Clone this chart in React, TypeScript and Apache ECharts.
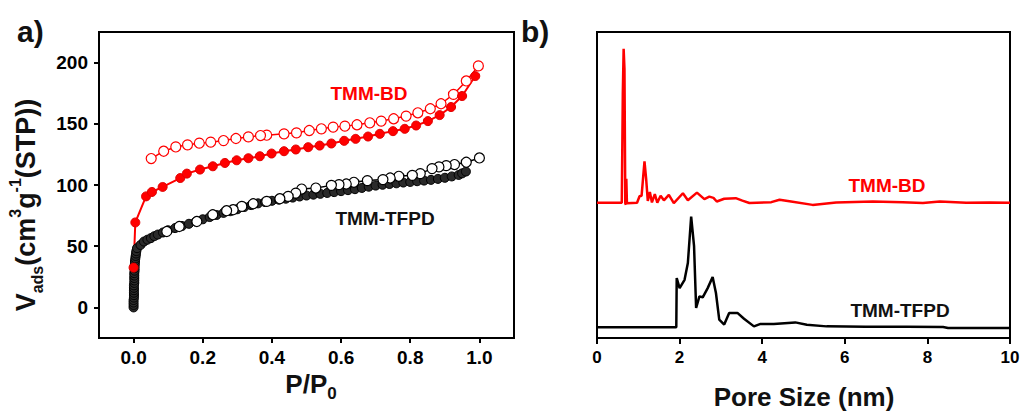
import React, { useEffect, useRef } from 'react';
import * as echarts from 'echarts';

const FONT = '"Liberation Sans", Arial, Helvetica, sans-serif';
const RED = '#ff0000';
const BLACK = '#000000';

// Panel a) N2 isotherms: [P/P0, V_ads]
const bdAdsorption: [number, number][] = [
  [0.0, 32.5], [0.005, 69.4], [0.036, 90.7], [0.053, 94.3], [0.084, 98.4],
  [0.135, 105.7], [0.154, 109.3], [0.192, 112.6], [0.229, 115.3], [0.264, 118],
  [0.298, 120.2], [0.332, 121.9], [0.365, 123.5], [0.399, 125.7], [0.435, 127.6],
  [0.469, 129], [0.505, 130.9], [0.538, 132.2], [0.572, 133.9], [0.609, 136.1],
  [0.642, 137.7], [0.678, 139.6], [0.712, 141.8], [0.75, 144], [0.784, 145.9],
  [0.817, 148.6], [0.851, 152.2], [0.885, 157.1], [0.918, 163.7], [0.95, 172.7],
  [0.988, 189],
];
const bdDesorption: [number, number][] = [
  [0.997, 197.3], [0.962, 185], [0.925, 174], [0.889, 166.4], [0.858, 162.3],
  [0.822, 159], [0.788, 156.3], [0.752, 154.1], [0.716, 152.2], [0.683, 150.8],
  [0.646, 149.2], [0.611, 148.1], [0.577, 147.3], [0.543, 145.9], [0.508, 144.5],
  [0.471, 142.6], [0.435, 141.8], [0.385, 140.7], [0.367, 140.4], [0.332, 139.3],
  [0.296, 138], [0.26, 136.3], [0.223, 135], [0.19, 134.2], [0.156, 132.8],
  [0.122, 131.1], [0.087, 127.6], [0.051, 121.6],
];
const tfpdAdsorption: [number, number][] = [
  [0.0, 0], [0.0, 2], [0.0, 4], [0.0, 6], [0.001, 8], [0.001, 10], [0.001, 12],
  [0.001, 14], [0.001, 16], [0.001, 18], [0.002, 20], [0.002, 22], [0.002, 24],
  [0.002, 26], [0.002, 28], [0.003, 30], [0.003, 32], [0.003, 34], [0.004, 36],
  [0.004, 38], [0.005, 40], [0.006, 42], [0.007, 44], [0.008, 46], [0.01, 48.4],
  [0.02, 51], [0.03, 53.8], [0.04, 55.3], [0.05, 56.6], [0.06, 58.2], [0.07, 59.5],
  [0.085, 61.2], [0.1, 63], [0.12, 64.8], [0.14, 66.5], [0.16, 68.3], [0.18, 70.1],
  [0.2, 72], [0.22, 73.8], [0.24, 75.5], [0.26, 77.2], [0.28, 78.6], [0.3, 80.2],
  [0.32, 82], [0.34, 83.6], [0.36, 85], [0.38, 86.1], [0.4, 87.1], [0.42, 88],
  [0.44, 88.8], [0.46, 89.7], [0.48, 90.6], [0.5, 91.4], [0.52, 92.1], [0.54, 92.8],
  [0.56, 93.5], [0.58, 94.2], [0.6, 95], [0.62, 95.8], [0.64, 96.6], [0.66, 97.6],
  [0.68, 98.6], [0.7, 99.5], [0.72, 100.2], [0.74, 100.8], [0.76, 101.4], [0.78, 102],
  [0.8, 102.5], [0.82, 103.1], [0.84, 103.6], [0.86, 104.2], [0.88, 105], [0.9, 105.9],
  [0.92, 107], [0.94, 108.2], [0.95, 109.5], [0.961, 111],
];
const tfpdDesorption: [number, number][] = [
  [1.0, 122.1], [0.962, 118.6], [0.928, 116.7], [0.904, 115.8], [0.883, 114.8],
  [0.863, 113.4], [0.829, 109.3], [0.806, 107.9], [0.767, 107.1], [0.742, 105.7],
  [0.721, 104.4], [0.676, 103.6], [0.637, 102.2], [0.615, 100.8], [0.594, 100.3],
  [0.572, 99.7], [0.527, 97.5], [0.486, 96.7], [0.469, 93.4], [0.447, 90.7],
  [0.423, 88.8], [0.385, 86.6], [0.346, 84.7], [0.313, 82.5], [0.288, 79.8],
  [0.269, 79], [0.229, 75.7], [0.183, 70.2], [0.132, 66.1], [0.096, 62],
];

// Panel b) pore size distributions (offset, arbitrary units): [nm, value]
const bdPsd: [number, number][] = [
  [0, 44.2], [0.6, 44.2], [0.625, 80], [0.645, 94.5], [0.665, 88], [0.685, 44],
  [0.7, 43.6], [0.71, 52], [0.725, 44], [0.97, 44.2], [1.03, 46.3], [1.08, 46.5],
  [1.12, 53], [1.15, 57.7], [1.19, 52], [1.23, 44.8], [1.28, 47.7], [1.33, 44.3],
  [1.4, 47], [1.46, 44.2], [1.54, 46.5], [1.62, 45], [1.74, 46.8], [1.86, 44.1],
  [2.08, 47.3], [2.2, 45], [2.42, 47.5], [2.6, 45.4], [2.72, 46.2], [2.82, 45.8],
  [2.9, 44.6], [3.08, 45.5], [3.36, 45.7], [3.52, 44.9], [3.69, 44.1], [4.22, 44.4],
  [4.42, 45.2], [4.66, 44.7], [5.22, 43.5], [5.79, 44.3], [6.68, 44.6], [7.4, 44.4],
  [7.89, 44.1], [8.3, 44.6], [8.94, 44.2], [9.5, 44.3], [10, 44.2],
];
const tfpdPsd: [number, number][] = [
  [0, 3.5], [1.92, 3.5], [1.93, 19.6], [2.0, 16.3], [2.12, 19], [2.2, 24.5],
  [2.28, 39.7], [2.35, 30], [2.4, 9.8], [2.48, 13.6], [2.56, 13.3], [2.68, 16.3],
  [2.8, 19.9], [2.88, 14.7], [2.96, 6], [3.08, 4.4], [3.2, 8.2], [3.4, 8.2],
  [3.56, 6.3], [3.8, 3.8], [3.96, 4.6], [4.28, 4.6], [4.8, 5.1], [5.08, 4.3],
  [5.56, 3.8], [6.5, 3.7], [7.5, 3.7], [8.38, 3.6], [8.5, 3.3], [10, 3.3],
];

const isoXTicks = [0, 0.2, 0.4, 0.6, 0.8, 1.0];
const isoYTicks = [0, 50, 100, 150, 200];

const axisLine = { show: true, onZero: false, lineStyle: { color: BLACK, width: 2 } };

function buildOption(): any {
  const labelStyle = (size: number, margin: number) => ({
    color: BLACK, fontFamily: FONT, fontWeight: 'bold', fontSize: size, margin,
  });
  return {
    animation: false,
    backgroundColor: '#ffffff',
    grid: [
      { left: 99, top: 32, width: 415, height: 306, show: true, borderColor: BLACK, borderWidth: 2, backgroundColor: 'transparent' },
      { left: 597, top: 32, width: 413, height: 306, show: true, borderColor: BLACK, borderWidth: 2, backgroundColor: 'transparent' },
    ],
    xAxis: [
      {
        gridIndex: 0, type: 'value', min: -0.1, max: 1.1,
        axisLine,
        axisTick: { show: true, inside: false, length: 5, customValues: isoXTicks, lineStyle: { color: BLACK, width: 2 } },
        axisLabel: { ...labelStyle(19, 10), customValues: isoXTicks, formatter: (v: number) => Number(v).toFixed(1) },
        splitLine: { show: false },
      },
      {
        gridIndex: 1, type: 'value', min: 0, max: 10, interval: 2,
        axisLine,
        axisTick: { show: true, inside: false, length: 6, lineStyle: { color: BLACK, width: 2 } },
        axisLabel: { ...labelStyle(17, 11) },
        splitLine: { show: false },
      },
    ],
    yAxis: [
      {
        gridIndex: 0, type: 'value', min: -25, max: 225,
        axisLine,
        axisTick: { show: true, inside: false, length: 5, customValues: isoYTicks, lineStyle: { color: BLACK, width: 2 } },
        axisLabel: { ...labelStyle(19, 11), customValues: isoYTicks },
        splitLine: { show: false },
      },
      {
        gridIndex: 1, type: 'value', min: 0, max: 100,
        axisLine,
        axisTick: { show: false },
        axisLabel: { show: false },
        splitLine: { show: false },
      },
    ],
    series: [
      {
        type: 'line', xAxisIndex: 0, yAxisIndex: 0, data: tfpdAdsorption,
        symbol: 'circle', symbolSize: 9,
        itemStyle: { color: '#2a2a2a', borderColor: BLACK, borderWidth: 1 },
        lineStyle: { color: BLACK, width: 2 },
      },
      {
        type: 'line', xAxisIndex: 0, yAxisIndex: 0, data: tfpdDesorption,
        symbol: 'circle', symbolSize: 10,
        itemStyle: { color: '#ffffff', borderColor: BLACK, borderWidth: 1.2 },
        lineStyle: { color: BLACK, width: 1.5 },
      },
      {
        type: 'line', xAxisIndex: 0, yAxisIndex: 0, data: bdDesorption,
        symbol: 'circle', symbolSize: 10,
        itemStyle: { color: '#ffffff', borderColor: RED, borderWidth: 1.2 },
        lineStyle: { color: RED, width: 1.5 },
      },
      {
        type: 'line', xAxisIndex: 0, yAxisIndex: 0, data: bdAdsorption,
        symbol: 'circle', symbolSize: 9,
        itemStyle: { color: RED, borderColor: '#e00000', borderWidth: 1 },
        lineStyle: { color: RED, width: 2 },
      },
      {
        type: 'line', xAxisIndex: 1, yAxisIndex: 1, data: bdPsd,
        showSymbol: false, symbol: 'none',
        lineStyle: { color: RED, width: 2.5 },
      },
      {
        type: 'line', xAxisIndex: 1, yAxisIndex: 1, data: tfpdPsd,
        showSymbol: false, symbol: 'none',
        lineStyle: { color: BLACK, width: 2.5 },
      },
    ],
    graphic: [
      {
        type: 'text', left: 17, top: 16,
        style: { text: 'a)', fill: '#111', font: `bold 30px ${FONT}` },
      },
      {
        type: 'text', left: 521, top: 16,
        style: { text: 'b)', fill: '#111', font: `bold 30px ${FONT}` },
      },
      {
        type: 'text', x: 369, y: 93,
        style: { text: 'TMM-BD', fill: RED, font: `bold 19px ${FONT}`, align: 'center', verticalAlign: 'middle' },
      },
      {
        type: 'text', x: 385, y: 218,
        style: { text: 'TMM-TFPD', fill: '#111', font: `bold 19px ${FONT}`, align: 'center', verticalAlign: 'middle' },
      },
      {
        type: 'text', x: 887, y: 185,
        style: { text: 'TMM-BD', fill: RED, font: `bold 19px ${FONT}`, align: 'center', verticalAlign: 'middle' },
      },
      {
        type: 'text', x: 900, y: 310,
        style: { text: 'TMM-TFPD', fill: '#111', font: `bold 19px ${FONT}`, align: 'center', verticalAlign: 'middle' },
      },
      {
        type: 'text', x: 26, y: 205, rotation: Math.PI / 2,
        style: {
          text: '{m|V}{s|ads}{m|(cm}{p|3}{m|g}{p|-1}{m|(STP))}',
          align: 'center', verticalAlign: 'middle', fill: '#111',
          rich: {
            m: { fontSize: 27, fontWeight: 'bold', fontFamily: FONT, lineHeight: 38, fill: '#111' },
            s: { fontSize: 16, fontWeight: 'bold', fontFamily: FONT, lineHeight: 16, verticalAlign: 'bottom', fill: '#111' },
            p: { fontSize: 16, fontWeight: 'bold', fontFamily: FONT, lineHeight: 16, verticalAlign: 'top', fill: '#111' },
          },
        },
      },
      {
        type: 'text', x: 311, y: 384,
        style: {
          text: '{m|P/P}{s|0}',
          align: 'center', verticalAlign: 'middle', fill: '#111',
          rich: {
            m: { fontSize: 26, fontWeight: 'bold', fontFamily: FONT, lineHeight: 36, fill: '#111' },
            s: { fontSize: 17, fontWeight: 'bold', fontFamily: FONT, lineHeight: 17, verticalAlign: 'bottom', fill: '#111' },
          },
        },
      },
      {
        type: 'text', x: 804, y: 397,
        style: { text: 'Pore Size (nm)', fill: '#111', font: `bold 26px ${FONT}`, align: 'center', verticalAlign: 'middle' },
      },
    ],
  };
}

export default function App() {
  const ref = useRef<HTMLDivElement>(null);
  useEffect(() => {
    if (!ref.current) return;
    const chart = echarts.init(ref.current, null, { renderer: 'svg' });
    chart.setOption(buildOption());
    return () => chart.dispose();
  }, []);
  return (
    <div
      ref={ref}
      style={{ position: 'fixed', left: 0, top: 0, width: 1023, height: 412, background: '#fff' }}
    />
  );
}
